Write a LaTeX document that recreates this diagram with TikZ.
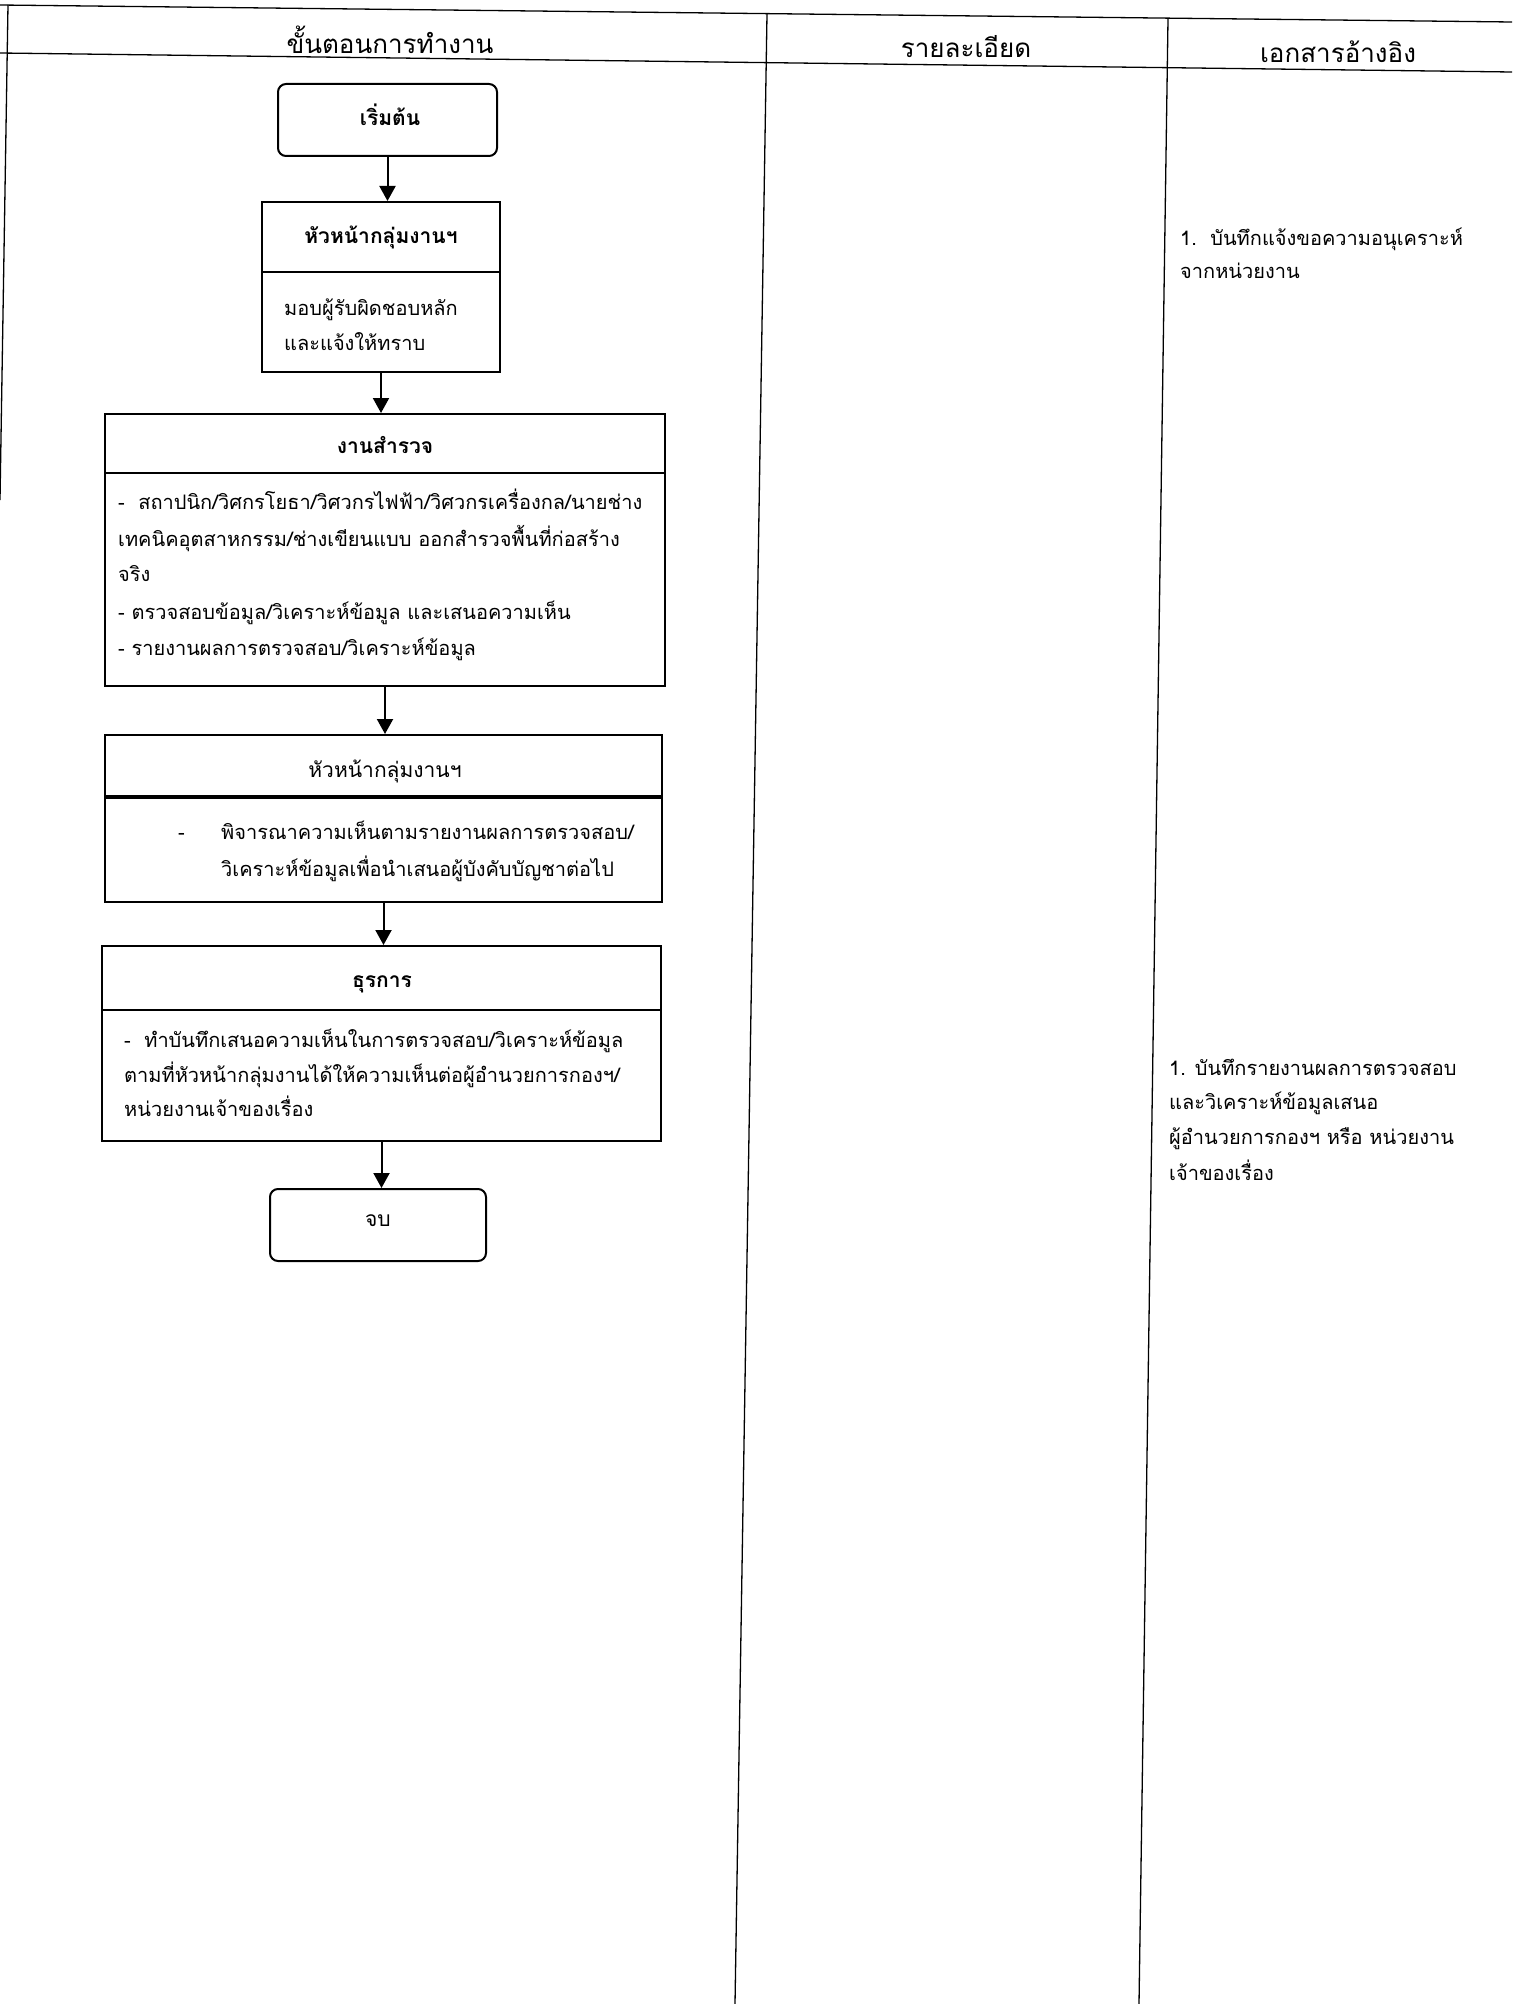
\documentclass[tikz,border=0pt]{standalone}
\usepackage{fontspec}
\newfontfamily\thai[Script=Thai]{Loma}
\usetikzlibrary{arrows.meta}
\begin{document}
\begin{tikzpicture}[x=1pt,y=-1pt,
  frame/.style={line width=1.3pt},
  box/.style={draw, line width=2pt, inner sep=0pt},
  term/.style={box, rounded corners=8pt},
  divl/.style={line width=2pt},
  head/.style={font=\thai\fontsize{26}{30}\selectfont, inner sep=0pt},
  ttl/.style={font=\thai\bfseries\fontsize{21}{26}\selectfont, inner sep=0pt},
  ttlr/.style={font=\thai\fontsize{21}{26}\selectfont, inner sep=0pt},
  txt/.style={font=\thai\fontsize{20}{26}\selectfont, anchor=base west, inner sep=0pt},
  arr/.style={-{Triangle[length=15pt,width=16pt]}, line width=2pt}]
\useasboundingbox (0,0) rectangle (1512,2004);
\fill[white] (0,0) rectangle (1512,2004);
% table frame
\draw[frame] (0,5) -- (1512,22);
\draw[frame] (0,53) -- (1512,72);
\draw[frame] (8,5) -- (0,500);
\draw[frame] (767,14) -- (735,2004);
\draw[frame] (1168,19) -- (1139,2004);
% headers
\node[head] (h1) at (390,40) {ขั้นตอนการทำงาน};
\node[head] (h2) at (966,47) {รายละเอียด};
\node[head] (h3) at (1338,52) {เอกสารอ้างอิง};
% start
\node[term, minimum width=219pt, minimum height=72pt] (start) at (387.5,120) {};
\node[ttl] (st) at (390,115) {เริ่มต้น};
% box 2
\node[box, minimum width=238pt, minimum height=170pt] (b2) at (381,287) {};
\draw[divl] (b2.west |- 0,272) -- (b2.east |- 0,272);
\node[ttl] (t2) at (381,237) {หัวหน้ากลุ่มงานฯ};
\node[txt] (l21) at (284,315) {มอบผู้รับผิดชอบหลัก};
\node[txt] (l22) at (284,350) {และแจ้งให้ทราบ};
% box 3
\node[box, minimum width=560pt, minimum height=272pt] (b3) at (385,550) {};
\draw[divl] (b3.west |- 0,473) -- (b3.east |- 0,473);
\node[ttl] (t3) at (385,445) {งานสำรวจ};
\node[txt] (l31) at (118,509) {-\ \ สถาปนิก/วิศกรโยธา/วิศวกรไฟฟ้า/วิศวกรเครื่องกล/นายช่าง};
\node[txt] (l32) at (118,546) {เทคนิคอุตสาหกรรม/ช่างเขียนแบบ ออกสำรวจพื้นที่ก่อสร้าง};
\node[txt] (l33) at (118,581) {จริง};
\node[txt] (l34) at (118,619) {- ตรวจสอบข้อมูล/วิเคราะห์ข้อมูล และเสนอความเห็น};
\node[txt] (l35) at (118,655) {- รายงานผลการตรวจสอบ/วิเคราะห์ข้อมูล};
% box 4
\node[box, minimum width=557pt, minimum height=167pt] (b4) at (383.5,818.5) {};
\draw[line width=3.4pt] (b4.west |- 0,797) -- (b4.east |- 0,797);
\node[ttlr] (t4) at (385,771) {หัวหน้ากลุ่มงานฯ};
\node[txt] (l40) at (178,839) {-};
\node[txt] (l41) at (221,839) {พิจารณาความเห็นตามรายงานผลการตรวจสอบ/};
\node[txt] (l42) at (221,876) {วิเคราะห์ข้อมูลเพื่อนำเสนอผู้บังคับบัญชาต่อไป};
% box 5
\node[box, minimum width=559pt, minimum height=195pt] (b5) at (381.5,1043.5) {};
\draw[divl] (b5.west |- 0,1010) -- (b5.east |- 0,1010);
\node[ttl] (t5) at (382,984) {ธุรการ};
\node[txt] (l51) at (124,1047) {-\ \ ทำบันทึกเสนอความเห็นในการตรวจสอบ/วิเคราะห์ข้อมูล};
\node[txt] (l52) at (124,1082) {ตามที่หัวหน้ากลุ่มงานได้ให้ความเห็นต่อผู้อำนวยการกองฯ/};
\node[txt] (l53) at (124,1116) {หน่วยงานเจ้าของเรื่อง};
% end
\node[term, minimum width=216pt, minimum height=72pt] (end) at (378,1225) {};
\node[ttlr] (et) at (378,1221) {จบ};
% arrows
\draw[arr] (start.south) -- (start.south |- b2.north);
\draw[arr] (b2.south) -- (b2.south |- b3.north);
\draw[arr] (b3.south) -- (b3.south |- b4.north);
\draw[arr] (b4.south) -- (b4.south |- b5.north);
\draw[arr] (b5.south) -- (b5.south |- end.north);
% references column
\node[txt] (r11) at (1180,245) {1.\ \ บันทึกแจ้งขอความอนุเคราะห์};
\node[txt] (r12) at (1180,278) {จากหน่วยงาน};
\node[txt] (r21) at (1169,1075) {1. บันทึกรายงานผลการตรวจสอบ};
\node[txt] (r22) at (1169,1109) {และวิเคราะห์ข้อมูลเสนอ};
\node[txt] (r23) at (1169,1144) {ผู้อำนวยการกองฯ หรือ หน่วยงาน};
\node[txt] (r24) at (1169,1180) {เจ้าของเรื่อง};
\end{tikzpicture}
\end{document}
